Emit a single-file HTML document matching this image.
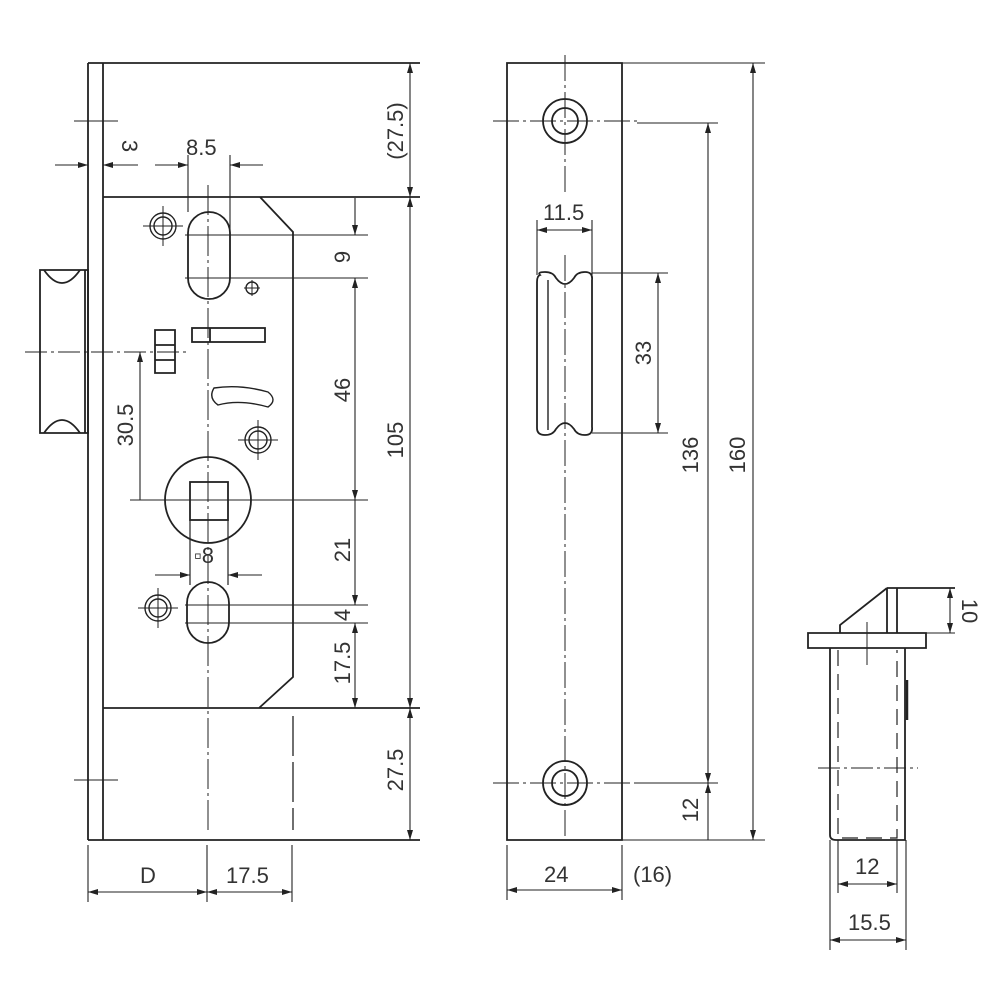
<!DOCTYPE html>
<html><head><meta charset="utf-8"><style>
html,body{margin:0;padding:0;background:#fff;width:1000px;height:1000px;overflow:hidden}
svg{display:block}
text{font-family:"Liberation Sans",sans-serif;font-size:22px;fill:#333}
</style></head><body>
<svg width="1000" height="1000" viewBox="0 0 1000 1000" xmlns="http://www.w3.org/2000/svg">
<defs>
<marker id="a" viewBox="0 0 10 6" refX="10" refY="3" markerWidth="10" markerHeight="6" orient="auto-start-reverse" markerUnits="userSpaceOnUse"><path d="M0,0 L10,3 L0,6z" fill="#222"/></marker>
</defs>
<g stroke="#222" fill="none" stroke-width="1.8">
<path d="M88,63 H420 M88,840 H420 M88,63 V840 M103,63 V840"/>
<path d="M103,197 H260 L293,232 V677 L259,708 H103 M260,197 H420 M259,708 H420"/>
<path d="M293,716 V830" stroke-dasharray="40,6" stroke-width="1.3"/>
<path d="M208,185 V830" stroke-dasharray="30,4,3,4" stroke-width="1"/>
<path d="M40,270 H88 V433 H40 Z M85,270 V433"/>
<path d="M44,270 Q62,296 80,270 M44,433 Q62,407 80,433"/>
<path d="M25,352 H190" stroke-dasharray="22,4,3,4" stroke-width="1"/>
<g stroke-width="1.4">
<circle cx="163" cy="226" r="13"/><circle cx="163" cy="226" r="9"/>
<circle cx="258" cy="440" r="13"/><circle cx="258" cy="440" r="9"/>
<circle cx="158" cy="608" r="13"/><circle cx="158" cy="608" r="9"/>
<path d="M143,226 H183 M163,206 V246 M238,440 H278 M258,420 V460 M138,608 H178 M158,588 V628" stroke-width="1"/>
<circle cx="252" cy="288" r="6"/>
<path d="M244,288 H260 M252,280 V296" stroke-width="1"/>
</g>
<rect x="188" y="212" width="42" height="87" rx="21"/>
<rect x="187" y="582" width="42" height="61" rx="21"/>
<rect x="192" y="328" width="73" height="14"/>
<path d="M210,328 V342"/>
<path d="M155,330 H175 V373 H155 Z M155,345 H175 M155,360 H175"/>
<path d="M214,388 Q240,384 268,392 Q278,400 268,407 Q240,399 218,405 Q208,398 214,388Z" stroke-width="1.4"/>
<circle cx="208" cy="500" r="43"/>
<rect x="190" y="482" width="38" height="38"/>
<path d="M190,520 V585 M228,520 V585" stroke-width="1.2"/>
<g stroke-width="1.1">
<path d="M55,165 H88" marker-end="url(#a)"/>
<path d="M138,165 H103" marker-end="url(#a)"/>
<path d="M74,121 H118 M74,780 H118"/>
<path d="M155,165 H188" marker-end="url(#a)"/>
<path d="M263,165 H230" marker-end="url(#a)"/>
<path d="M188,155 V212 M230,155 V260"/>
<path d="M185,235 H368 M185,278 H368"/>
<path d="M355,198 V235" marker-end="url(#a)"/>
<path d="M355,278 V500" marker-start="url(#a)" marker-end="url(#a)"/>
<path d="M355,500 V605" marker-end="url(#a)"/>
<path d="M355,623 V708" marker-start="url(#a)" marker-end="url(#a)"/>
<path d="M130,500 H368 M185,605 H368 M185,623 H368"/>
<path d="M140,352 V500" marker-start="url(#a)"/>
<path d="M410,63 V197" marker-start="url(#a)" marker-end="url(#a)"/>
<path d="M410,197 V708" marker-start="url(#a)" marker-end="url(#a)"/>
<path d="M410,708 V840" marker-start="url(#a)" marker-end="url(#a)"/>
<path d="M155,575 H190" marker-end="url(#a)"/>
<path d="M262,575 H228" marker-end="url(#a)"/>
<path d="M88,845 V902 M207,845 V902 M292,845 V902"/>
<path d="M88,892 H207" marker-start="url(#a)" marker-end="url(#a)"/>
<path d="M207,892 H292" marker-start="url(#a)" marker-end="url(#a)"/>
</g>
<path d="M507,63 V840 H622 V63 Z"/>
<circle cx="565" cy="121" r="22"/><circle cx="565" cy="121" r="13"/>
<circle cx="565" cy="783" r="22"/><circle cx="565" cy="783" r="13"/>
<path d="M565,55 V195 M565,255 V840 M493,121 H640 M493,783 H640" stroke-dasharray="26,4,3,4" stroke-width="1"/>
<path d="M540,275 Q537,272 545,272 Q553,272 556,278 Q565,290 574,278 Q577,272 585,272 Q593,272 592,280 V427 Q593,435 585,435 Q577,435 574,429 Q565,417 556,429 Q553,435 545,435 Q537,435 537,428 V282 Q537,276 540,275Z"/>
<path d="M548,280 V430" stroke-width="1.4"/>
<g stroke-width="1.1">
<path d="M537,220 V275 M592,220 V275"/>
<path d="M537,230 H592" marker-start="url(#a)" marker-end="url(#a)"/>
<path d="M592,273 H668 M592,433 H668"/>
<path d="M658,273 V433" marker-start="url(#a)" marker-end="url(#a)"/>
<path d="M637,123 H718 M637,783 H718"/>
<path d="M708,123 V783" marker-start="url(#a)" marker-end="url(#a)"/>
<path d="M708,783 V840" marker-start="url(#a)"/>
<path d="M622,63 H765 M622,840 H765"/>
<path d="M753,63 V840" marker-start="url(#a)" marker-end="url(#a)"/>
<path d="M507,845 V900 M622,845 V900"/>
<path d="M507,890 H622" marker-start="url(#a)" marker-end="url(#a)"/>
</g>
<path d="M808,633 H926 V648 H808 Z"/>
<path d="M887,588 V633 M897,588 V633 M887,588 H897 L955,588 M887,588 L840,625 V633"/>
<path d="M830,648 V835 Q830,840 836,840 H905 V648"/>
<path d="M907,680 V720" stroke-width="2.5"/>
<path d="M838,650 V838 H897 V650" stroke-dasharray="16,8" stroke-width="1.2"/>
<path d="M867,622 V665" stroke-width="1"/>
<path d="M818,768 H918" stroke-dasharray="22,4,3,4" stroke-width="1"/>
<g stroke-width="1.1">
<path d="M926,633 H955"/>
<path d="M950,588 V633" marker-start="url(#a)" marker-end="url(#a)"/>
<path d="M838,840 V893 M897,840 V893 M830,840 V950 M906,840 V950"/>
<path d="M838,884 H897" marker-start="url(#a)" marker-end="url(#a)"/>
<path d="M830,940 H906" marker-start="url(#a)" marker-end="url(#a)"/>
</g>
</g>
<text transform="translate(122,146) rotate(90)" text-anchor="middle">3</text>
<text x="186" y="155">8.5</text>
<text transform="translate(403,131) rotate(-90)" text-anchor="middle">(27.5)</text>
<text transform="translate(350,257) rotate(-90)" text-anchor="middle">9</text>
<text transform="translate(350,390) rotate(-90)" text-anchor="middle">46</text>
<text transform="translate(403,440) rotate(-90)" text-anchor="middle">105</text>
<text transform="translate(133,425) rotate(-90)" text-anchor="middle">30.5</text>
<text transform="translate(350,550) rotate(-90)" text-anchor="middle">21</text>
<text transform="translate(350,615) rotate(-90)" text-anchor="middle">4</text>
<text transform="translate(350,663) rotate(-90)" text-anchor="middle">17.5</text>
<text transform="translate(403,770) rotate(-90)" text-anchor="middle">27.5</text>
<text x="194" y="563">▫8</text>
<text x="140" y="883">D</text>
<text x="226" y="883">17.5</text>
<text x="543" y="220">11.5</text>
<text transform="translate(651,353) rotate(-90)" text-anchor="middle">33</text>
<text transform="translate(698,455) rotate(-90)" text-anchor="middle">136</text>
<text transform="translate(745,455) rotate(-90)" text-anchor="middle">160</text>
<text transform="translate(698,810) rotate(-90)" text-anchor="middle">12</text>
<text x="544" y="882">24</text>
<text x="633" y="882">(16)</text>
<text transform="translate(962,611) rotate(90)" text-anchor="middle">10</text>
<text x="855" y="874">12</text>
<text x="848" y="930">15.5</text>
</svg>
</body></html>
